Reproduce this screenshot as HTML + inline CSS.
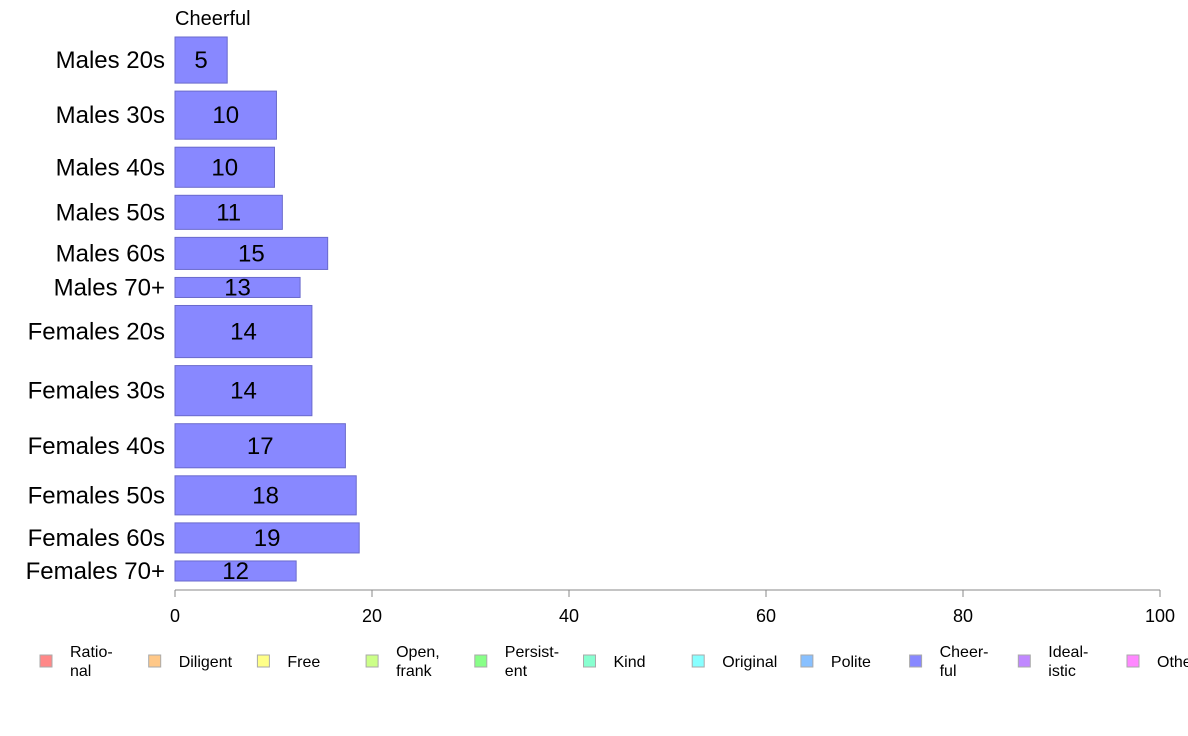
<!DOCTYPE html>
<html><head><meta charset="utf-8"><style>
html,body{margin:0;padding:0;background:#fff;}
svg{display:block;font-family:"Liberation Sans",Arial,sans-serif;}
</style></head><body>
<svg id="chart" width="1188" height="736" viewBox="0 0 1188 736"></svg>
<script>
const categories=["Males 20s","Males 30s","Males 40s","Males 50s","Males 60s","Males 70+","Females 20s","Females 30s","Females 40s","Females 50s","Females 60s","Females 70+"];
const values=[5.3,10.3,10.1,10.9,15.5,12.7,13.9,13.9,17.3,18.4,18.7,12.3];
const valueLabels=["5","10","10","11","15","13","14","14","17","18","19","12"];
const groupSizes=[46,48,40,34,32,20,52,50,44,39,30,20];
const ticks=[0,20,40,60,80,100];
const legendLabels=[["Ratio-","nal"],["Diligent"],["Free"],["Open,","frank"],["Persist-","ent"],["Kind"],["Original"],["Polite"],["Cheer-","ful"],["Ideal-","istic"],["Other"]];
const legendColors=["#ff8888","#ffc888","#ffff88","#ccff88","#88ff88","#88ffd0","#88ffff","#88c0ff","#8888ff","#c088ff","#ff88ff"];

const svg=document.getElementById('chart');
const NS='http://www.w3.org/2000/svg';
function mk(t,a,txt){const e=document.createElementNS(NS,t);for(const k in a)e.setAttribute(k,a[k]);if(txt!==undefined)e.textContent=txt;svg.appendChild(e);return e;}
const x0=175,x1=1160,yTop=37,yBottom=581,gap=8;
const xs=v=>x0+(v/100)*(x1-x0);
const total=groupSizes.reduce((a,b)=>a+b,0);
const unit=(yBottom-yTop-gap*(categories.length-1))/total;

let t=mk('text',{x:175,y:25,'font-size':20,fill:'#000'},'Cheerful');



let y=yTop;
categories.forEach((c,i)=>{
  const h=groupSizes[i]*unit;
  const r=mk('rect',{x:x0,y:y,width:xs(values[i])-x0,height:h,fill:'#8888ff',stroke:'#6a6acc','stroke-width':1});
  
  
  const cy=y+h/2+8;
  const l=mk('text',{x:165,y:cy,'font-size':24,'text-anchor':'end',fill:'#000'},c);
  
  
  const v=mk('text',{x:(x0+xs(values[i]))/2,y:cy,'font-size':24,'text-anchor':'middle',fill:'#000'},valueLabels[i]);
  
  
  y+=h+gap;
});

const ax=mk('line',{x1:x0,y1:590,x2:x1,y2:590,stroke:'#888','stroke-width':1});


ticks.forEach(v=>{
  const tk=mk('line',{x1:xs(v),y1:590,x2:xs(v),y2:597,stroke:'#888','stroke-width':1});
  
  
  const tl=mk('text',{x:xs(v),y:622,'font-size':18,'text-anchor':'middle',fill:'#000'},String(v));
  
  
});

legendLabels.forEach((lab,i)=>{
  const lx=40+i*108.7;
  const sq=mk('rect',{x:lx,y:655,width:12,height:12,fill:legendColors[i],stroke:'#aaa','stroke-width':1});
  
  
  if(lab.length===1){
    const tx=mk('text',{x:lx+30,y:667,'font-size':16,fill:'#000'},lab[0]);
    
    
  }else{
    lab.forEach((s,j)=>{
      const tx=mk('text',{x:lx+30,y:657+j*19,'font-size':16,fill:'#000'},s);
      
      
    });
  }
});
</script>
</body></html>
